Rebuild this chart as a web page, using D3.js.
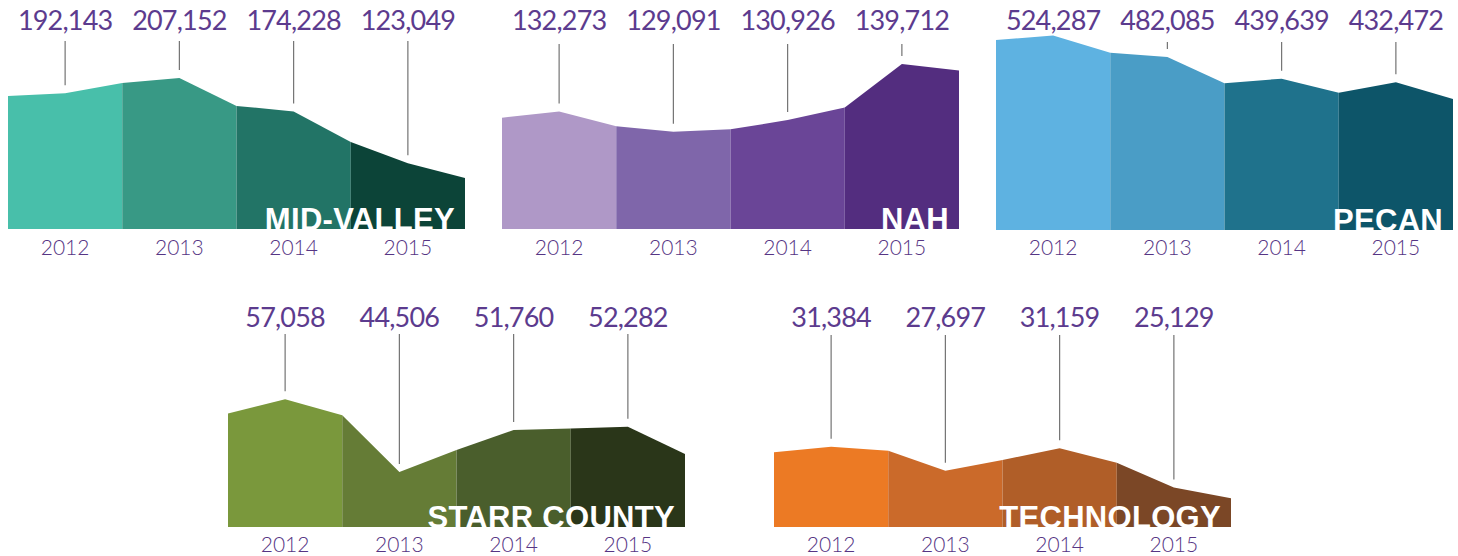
<!DOCTYPE html>
<html lang="en">
    <head>
        <meta charset="utf-8">
        <title>Enrollment by campus 2012-2015</title>
        <script src="https://d3js.org/d3.v7.min.js"></script>
        <style>
            html, body {
                margin: 0;
                padding: 0;
                background: #ffffff;
            }
            svg {
                display: block;
            }
            .value-label {
                font-family: "Lato", sans-serif;
                font-weight: 400;
                font-size: 27px;
                letter-spacing: -0.8px;
                fill: #5c3b8e;
            }
            .year-label {
                font-family: "Lato", sans-serif;
                font-weight: 300;
                font-size: 21px;
                fill: #563584;
            }
            .school-name {
                font-family: "Liberation Sans", Arial, sans-serif;
                font-weight: 700;
                font-size: 31px;
                letter-spacing: 0.3px;
                fill: #ffffff;
            }
            .leader {
                stroke: #737373;
                stroke-width: 1.2;
            }
        </style>
    </head>
    <body>
        <svg id="chart"></svg>

        <script>
            //data
            const years = ["2012", "2013", "2014", "2015"];
            const schools = ["MID-VALLEY", "NAH", "PECAN", "STARR COUNTY", "TECHNOLOGY"];

            const midValley = [192143, 207152, 174228, 123049];
            const nah = [132273, 129091, 130926, 139712];
            const pecan = [524287, 482085, 439639, 432472];
            const starrCounty = [57058, 44506, 51760, 52282];
            const technology = [31384, 27697, 31159, 25129];

            //level of the shape at the segment edges
            const midValleyEdges = [189400, 202300, 179600, 144000, 108500];
            const nahEdges = [131300, 129950, 129500, 132900, 138700];
            const pecanEdges = [515400, 490500, 430800, 412000, 399600];
            const starrCountyEdges = [54600, 54300, 48300, 52000, 47600];
            const technologyEdges = [30540, 30780, 29360, 28940, 23480];

            //value range each panel covers
            const midValleyDomain = [58200, 255500];
            const nahDomain = [113900, 145170];
            const pecanDomain = [142900, 535000];
            const starrCountyDomain = [35020, 69500];
            const technologyDomain = [19080, 49760];

            const series = [midValley, nah, pecan, starrCounty, technology];
            const edges = [midValleyEdges, nahEdges, pecanEdges, starrCountyEdges, technologyEdges];
            const domains = [midValleyDomain, nahDomain, pecanDomain, starrCountyDomain, technologyDomain];

            //styles and layout
            const palettes = [
                ["#48bfaa", "#389985", "#227466", "#0c4438"],
                ["#af98c7", "#7f66aa", "#6a4597", "#532d7f"],
                ["#5eb2e1", "#4a9dc6", "#1f728c", "#0d5569"],
                ["#7a983c", "#657c36", "#4a5e2c", "#2a3619"],
                ["#ec7a24", "#cb6a2a", "#b05e28", "#7b4726"]
            ];
            const panels = [
                { x: 8, base: 229, labelY: 29.5, lineTop: 41, yearY: 255 },
                { x: 502, base: 229, labelY: 29.5, lineTop: 44, yearY: 255 },
                { x: 996, base: 230, labelY: 29.5, lineTop: 42, yearY: 255 },
                { x: 228, base: 527, labelY: 327, lineTop: 334, yearY: 552 },
                { x: 774, base: 527, labelY: 327, lineTop: 335, yearY: 552 }
            ];
            const width = 1458;
            const height = 556;
            const panelWidth = 457;
            const panelHeight = 200;
            const gap = 8;

            const svg = d3.select("#chart")
                .attr("width", width)
                .attr("height", height);

            const defs = svg.append("defs");
            const fmt = d3.format(",");

            schools.forEach((name, p) => {
                const cfg = panels[p];
                const values = series[p];
                const edge = edges[p];

                const x = d3.scaleBand()
                    .domain(years)
                    .range([cfg.x, cfg.x + panelWidth])
                    .paddingInner(0)
                    .paddingOuter(0);

                const y = d3.scaleLinear()
                    .domain(domains[p])
                    .range([cfg.base, cfg.base - panelHeight]);

                const area = d3.area()
                    .x(d => d.x)
                    .y0(cfg.base)
                    .y1(d => y(d.v));

                //names are cut off at the baseline
                defs.append("clipPath")
                    .attr("id", `clip-${p}`)
                    .append("rect")
                    .attr("x", cfg.x)
                    .attr("y", cfg.base - panelHeight)
                    .attr("width", panelWidth)
                    .attr("height", panelHeight);

                const g = svg.append("g").attr("class", "panel");

                //one shape per year
                g.selectAll("path.segment")
                    .data(years)
                    .enter()
                    .append("path")
                    .attr("class", "segment")
                    .attr("fill", (d, i) => palettes[p][i])
                    .attr("d", (d, i) => area([
                        { x: x(d), v: edge[i] },
                        { x: x(d) + x.bandwidth() / 2, v: values[i] },
                        { x: x(d) + x.bandwidth(), v: edge[i + 1] }
                    ]));

                //school name, white, sitting on the baseline
                g.append("g")
                    .attr("clip-path", `url(#clip-${p})`)
                    .append("text")
                    .attr("class", "school-name")
                    .attr("x", cfg.x + panelWidth - 10)
                    .attr("y", cfg.base + 1)
                    .attr("text-anchor", "end")
                    .text(name);

                //leader lines
                g.selectAll("line.leader")
                    .data(years.filter((d, i) => y(values[i]) - gap > cfg.lineTop + 2))
                    .enter()
                    .append("line")
                    .attr("class", "leader")
                    .attr("x1", d => x(d) + x.bandwidth() / 2)
                    .attr("x2", d => x(d) + x.bandwidth() / 2)
                    .attr("y1", cfg.lineTop)
                    .attr("y2", d => y(values[years.indexOf(d)]) - gap);

                //value labels
                g.selectAll("text.value-label")
                    .data(years)
                    .enter()
                    .append("text")
                    .attr("class", "value-label")
                    .attr("x", d => x(d) + x.bandwidth() / 2)
                    .attr("y", cfg.labelY)
                    .attr("text-anchor", "middle")
                    .text((d, i) => fmt(values[i]));

                //year labels
                g.selectAll("text.year-label")
                    .data(years)
                    .enter()
                    .append("text")
                    .attr("class", "year-label")
                    .attr("x", d => x(d) + x.bandwidth() / 2)
                    .attr("y", cfg.yearY)
                    .attr("text-anchor", "middle")
                    .text(d => d);
            });
        </script>
    </body>
</html>
